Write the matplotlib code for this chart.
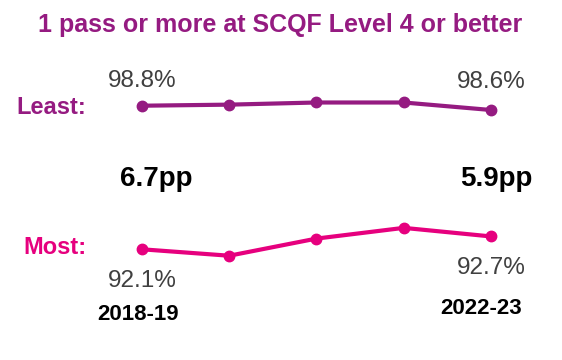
import matplotlib.pyplot as plt

plt.rcParams['font.family'] = ['Liberation Sans', 'DejaVu Sans']

years = ['2018-19', '2019-20', '2020-21', '2021-22', '2022-23']
least = [98.8, 98.85, 98.95, 98.95, 98.6]
most = [92.1, 91.8, 92.6, 93.1, 92.7]
gaps = ['6.7pp', '5.9pp']

purple = '#951B81'
pink = '#E6007E'
grey = '#404040'

fig = plt.figure(figsize=(5.62, 3.6), dpi=100)
ax = fig.add_axes([0, 0, 1, 1])
x = list(range(len(years)))

ax.plot(x, least, color=purple, lw=3, marker='o', ms=7.5)
ax.plot(x, most, color=pink, lw=3, marker='o', ms=7.5)

ax.set_xlim(-1.6275, 4.8138)
ax.set_ylim(86.934, 103.733)
ax.axis('off')

# value labels at first and last points
lab = dict(ha='center', va='center', fontsize=17.5, color=grey, textcoords='offset points')
ax.annotate(f'{least[0]}%', (x[0], least[0]), xytext=(0, 18), **lab)
ax.annotate(f'{least[-1]}%', (x[-1], least[-1]), xytext=(0, 20.5), **lab)
ax.annotate(f'{most[0]}%', (x[0], most[0]), xytext=(0, -23), **lab)
ax.annotate(f'{most[-1]}%', (x[-1], most[-1]), xytext=(0, -22.5), **lab)

fig.text(280 / 562, 1 - 25 / 360, '1 pass or more at SCQF Level 4 or better',
         ha='center', va='center', fontsize=18, fontweight='bold', color=purple)
fig.text(16 / 562, 1 - 107 / 360, 'Least:', ha='left', va='center',
         fontsize=17, fontweight='bold', color=purple)
fig.text(23 / 562, 1 - 248 / 360, 'Most:', ha='left', va='center',
         fontsize=17, fontweight='bold', color=pink)

fig.text(156 / 562, 1 - 179 / 360, gaps[0], ha='center', va='center',
         fontsize=20, fontweight='bold', color='black')
fig.text(496 / 562, 1 - 179 / 360, gaps[1], ha='center', va='center',
         fontsize=20, fontweight='bold', color='black')

fig.text(138 / 562, 1 - 315 / 360, years[0], ha='center', va='center',
         fontsize=16, fontweight='bold', color='black')
fig.text(481 / 562, 1 - 308 / 360, years[-1], ha='center', va='center',
         fontsize=16, fontweight='bold', color='black')

fig.savefig('out.png', dpi=100)
